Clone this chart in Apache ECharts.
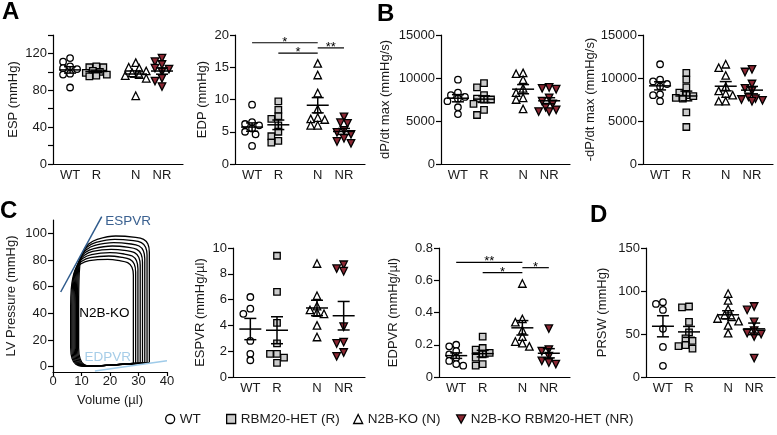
<!DOCTYPE html>
<html><head><meta charset="utf-8">
<script src="https://cdn.jsdelivr.net/npm/echarts@6/dist/echarts.min.js"></script>
<style>html,body{margin:0;padding:0;background:#fff}#c{width:777px;height:435px}</style>
</head><body><div id="c"></div>
<script>
// ---------- data ----------
const groupLabels = ['WT', 'R', 'N', 'NR'];
const legendNames = ['WT', 'RBM20-HET (R)', 'N2B-KO (N)', 'N2B-KO RBM20-HET (NR)'];

const espWT = [115, 111, 106, 104, 103, 98, 97, 83];
const espR  = [106, 105, 105, 101, 100, 99, 97, 96, 95];
const espN  = [110, 105, 104, 101, 99, 97, 96, 93, 74];
const espNR = [115, 111, 108, 104, 103, 100, 93, 90, 84];

const edpWT = [9.2, 6.5, 6.2, 6.0, 5.5, 5.0, 4.6, 2.8];
const edpR  = [9.7, 8.4, 7.4, 7.0, 6.0, 5.0, 4.3, 3.6, 3.3];
const edpN  = [15.6, 13.8, 11.0, 8.5, 7.2, 7.0, 6.9, 6.0, 6.0];
const edpNR = [7.3, 6.4, 6.3, 5.2, 4.9, 4.6, 4.0, 3.5, 3.2];

const dpWT = [9800, 8300, 8000, 7800, 7600, 7300, 6600, 5800];
const dpR  = [9400, 8900, 8000, 7600, 7500, 7500, 7000, 6300, 5700];
const dpN  = [10600, 10500, 9800, 8800, 8300, 7700, 7500, 6400];
const dpNR = [8900, 8800, 8700, 7700, 7300, 7000, 6600, 6300, 6100, 6100];

const ndpWT = [11600, 9800, 9600, 9300, 9000, 8100, 8000, 7300];
const ndpR  = [10600, 9800, 8900, 8300, 8000, 7900, 7700, 7600, 6000, 4300];
const ndpN  = [11600, 11200, 10300, 9000, 8500, 8200, 8000, 7300, 7300];
const ndpNR = [11000, 10700, 9300, 8800, 8500, 7800, 7600, 7500, 7400, 7300];

const espvrWT = [6.2, 5.3, 4.9, 2.8, 1.8, 1.3];
const espvrR  = [9.4, 6.6, 4.2, 2.6, 1.8, 1.8, 1.5, 1.1];
const espvrN  = [8.8, 6.3, 5.5, 5.2, 5.0, 4.9, 4.0, 3.1];
const espvrNR = [8.7, 8.4, 8.2, 3.9, 2.7, 2.6, 1.9, 1.6];

const edpvrWT = [0.20, 0.19, 0.16, 0.14, 0.12, 0.10, 0.08, 0.07];
const edpvrR  = [0.25, 0.18, 0.17, 0.15, 0.14, 0.12, 0.08, 0.07];
const edpvrN  = [0.58, 0.36, 0.34, 0.29, 0.25, 0.22, 0.21, 0.19];
const edpvrNR = [0.30, 0.17, 0.16, 0.13, 0.10, 0.09, 0.08];

const prswWT = [87, 85, 78, 56, 35, 13];
const prswR  = [82, 81, 64, 52, 45, 42, 37, 36, 33];
const prswN  = [97, 89, 79, 72, 70, 68, 65, 60, 51];
const prswNR = [82, 78, 64, 54, 51, 50, 47, 22];

// significance: [from group, to group, y value, label]
const edpSig   = [[0, 2, 18.8, '*'], [1, 2, 17.2, '*'], [2, 3, 18.0, '**']];
const edpvrSig = [[0, 2, 0.711, '**'], [1, 2, 0.647, '*'], [2, 3, 0.678, '*']];

// PV loops (volume µl, pressure mmHg), N2B-KO, largest to smallest
const pvLoop1 = [[20,1.2],[13.0,0.5],[10.8,1.8],[9.5,6],[9.0,14],[9.0,46],[9.2,70],[9.7,80],[10.7,87],[12.5,92],[15.5,95.5],[22.0,98],[29.0,97],[31.8,95.5],[33.3,92],[33.8,86],[33.8,3.3],[29.8,2.7],[20,1.2]];
const pvLoop2 = [[20,1.2],[12.6,0.5],[10.4,1.8],[9.1,6],[8.6,14],[8.6,46],[8.8,68.3],[9.3,78],[10.3,85],[12.1,89.9],[15.1,93.2],[21.6,95.5],[28.2,94.5],[31.0,93],[32.5,89.5],[33.0,83.5],[33.0,3.15],[29.0,2.55],[20,1.2]];
const pvLoop3 = [[20,1.2],[12.2,0.5],[10.0,1.8],[8.7,6],[8.2,14],[8.2,46],[8.4,66.6],[8.9,76],[9.9,83],[11.7,87.7],[14.7,90.9],[21.2,93],[27.4,92],[30.2,90.5],[31.7,87],[32.2,81],[32.2,3.0],[28.2,2.4],[20,1.2]];
const pvLoop4 = [[20,1.2],[11.8,0.5],[9.6,1.8],[8.3,6],[7.8,14],[7.8,46],[8.0,64.9],[8.5,74],[9.5,81],[11.3,85.6],[14.3,88.6],[20.8,90.5],[26.6,89.5],[29.4,88],[30.9,84.5],[31.4,78.5],[31.4,2.85],[27.4,2.25],[20,1.2]];
const pvLoop5 = [[20,1.2],[11.4,0.5],[9.2,1.8],[7.9,6],[7.4,14],[7.4,46],[7.6,63.1],[8.1,72],[9.1,79],[10.9,83.4],[13.9,86.4],[20.4,88],[25.8,87],[28.6,85.5],[30.1,82],[30.6,76],[30.6,2.7],[26.6,2.1],[20,1.2]];
const pvLoop6 = [[20,1.2],[11.0,0.5],[8.8,1.8],[7.5,6],[7.0,14],[7.0,46],[7.2,61.4],[7.7,70],[8.7,77],[10.5,81.3],[13.5,84.1],[20.0,85.5],[25.0,84.5],[27.8,83],[29.3,79.5],[29.8,73.5],[29.8,2.55],[25.8,1.95],[20,1.2]];
const pvLoop7 = [[20,1.2],[10.6,0.5],[8.4,1.8],[7.1,6],[6.6,14],[6.6,46],[6.8,59.7],[7.3,68],[8.3,75],[10.1,79.1],[13.1,81.8],[19.6,83],[24.2,82],[27.0,80.5],[28.5,77],[29.0,71],[29.0,2.4],[25.0,1.8],[20,1.2]];
const pvLoop8 = [[20,1.2],[10.2,0.5],[8.0,1.8],[6.7,6],[6.2,14],[6.2,46],[6.4,58],[6.9,66],[7.9,73],[9.7,77],[12.7,79.5],[19.2,80.5],[23.4,79.5],[26.2,78],[27.7,74.5],[28.2,68.5],[28.2,2.25],[24.2,1.65],[20,1.2]];
const espvrLine = [[2.7, 56], [17.1, 112.5]];
const edpvrLine = [[14.7, -3.2], [40, 4.5]];
// in-plot labels of the PV panel: [volume, pressure, text]
const pvLabels = [[18, 40, 'N2B-KO'], [26.4, 109, 'ESPVR'], [19.2, 7.3, 'EDPVR']];

// ---------- layout / style ----------
const groupPos = [1, 2, 3.5, 4.5];
const TXT = '#1a1a1a';
const FONT = 'Liberation Sans, Arial, Helvetica, sans-serif';
const symbols = ['circle', 'rect', 'triangle', 'path://M0,0L10,0L5,9Z'];
const symSizes = [6.5, 6.5, 7.5, 7.5];
const fills = ['#ffffff', '#cccccc', '#ffffff', '#8b2733'];
const pvLabelColors = ['#000000', '#3b6190', '#a6cde8'];

const panels = [
  {k:0, grid:{left:53, top:35, width:130, height:129}, min:0, max:140, step:20, every:40, name:'ESP (mmHg)', gap:33, sets:[espWT, espR, espN, espNR]},
  {k:1, grid:{left:235, top:35, width:130, height:129}, min:0, max:20, step:5, name:'EDP (mmHg)', gap:26, sets:[edpWT, edpR, edpN, edpNR], sig:edpSig},
  {k:2, grid:{left:441, top:35, width:129, height:129}, min:0, max:15000, step:5000, name:'dP/dt max (mmHg/s)', gap:49, sets:[dpWT, dpR, dpN, dpNR]},
  {k:3, grid:{left:643, top:35, width:130, height:129}, min:0, max:15000, step:5000, name:'-dP/dt max (mmHg/s)', gap:46, sets:[ndpWT, ndpR, ndpN, ndpNR]},
  {k:5, grid:{left:233, top:248, width:132, height:129}, min:0, max:10, step:2, name:'ESPVR (mmHg/µl)', gap:26, sets:[espvrWT, espvrR, espvrN, espvrNR]},
  {k:6, grid:{left:439, top:248, width:131, height:129}, min:0, max:0.8, step:0.2, name:'EDPVR (mmHg/µl)', gap:39, sets:[edpvrWT, edpvrR, edpvrN, edpvrNR], sig:edpvrSig},
  {k:7, grid:{left:646, top:248, width:129, height:129}, min:0, max:150, step:50, name:'PRSW (mmHg)', gap:37, sets:[prswWT, prswR, prswN, prswNR]}
];
const pvGrid = {left:53, top:220, width:114, height:152};

const axLine = {show:true, onZero:false, lineStyle:{color:'#000', width:1.2}};
const axTick = {show:true, length:5, lineStyle:{color:'#000', width:1.2}};

const grids = [], xAxes = [], yAxes = [];
panels.forEach(p => {
  grids[p.k] = Object.assign({outerBoundsMode:'none', containLabel:false}, p.grid);
  xAxes[p.k] = {type:'value', gridIndex:p.k, min:0.35, max:5.3, axisLine:axLine, axisTick:{show:false}, splitLine:{show:false},
    axisLabel:{customValues:groupPos, margin:5, fontSize:13, color:TXT, fontFamily:FONT,
      formatter: v => { const i = groupPos.indexOf(v); return i >= 0 ? groupLabels[i] : ''; }}};
  yAxes[p.k] = {type:'value', gridIndex:p.k, min:p.min, max:p.max, interval:p.step, axisLine:axLine, axisTick:axTick, splitLine:{show:false},
    axisLabel:{margin:6, fontSize:13, color:TXT, fontFamily:FONT,
      formatter: v => (p.every && Math.round(v) % p.every !== 0) ? '' : String(+v.toFixed(2))},
    name:p.name, nameLocation:'middle', nameRotate:90, nameGap:p.gap, nameTextStyle:{fontSize:13, color:TXT, fontFamily:FONT}};
});
grids[4] = Object.assign({outerBoundsMode:'none', containLabel:false}, pvGrid);
xAxes[4] = {type:'value', gridIndex:4, min:0, max:40, interval:10, axisLine:axLine, axisTick:{show:true, length:4, lineStyle:{color:'#000', width:1.2}}, splitLine:{show:false},
  axisLabel:{margin:3, fontSize:13, color:TXT, fontFamily:FONT},
  name:'Volume (µl)', nameLocation:'middle', nameGap:22, nameTextStyle:{fontSize:13, color:TXT, fontFamily:FONT}};
yAxes[4] = {type:'value', gridIndex:4, min:-4, max:110, axisLine:axLine, splitLine:{show:false},
  axisTick:Object.assign({customValues:[0,20,40,60,80,100]}, axTick),
  axisLabel:{customValues:[0,20,40,60,80,100], margin:6, fontSize:13, color:TXT, fontFamily:FONT},
  name:'LV Pressure (mmHg)', nameLocation:'middle', nameRotate:90, nameGap:35, nameTextStyle:{fontSize:13, color:TXT, fontFamily:FONT}};

const chart = echarts.init(document.getElementById('c'), null, {renderer:'canvas'});
chart.setOption({
  animation:false, backgroundColor:'#fff',
  textStyle:{fontFamily:FONT},
  grid:grids, xAxis:xAxes, yAxis:yAxes,
  graphic:[
    {type:'text', left:2, top:0, style:{text:'A', font:'bold 24px ' + FONT, fill:'#000'}},
    {type:'text', left:377, top:2, style:{text:'B', font:'bold 24px ' + FONT, fill:'#000'}},
    {type:'text', left:0, top:199, style:{text:'C', font:'bold 24px ' + FONT, fill:'#000'}},
    {type:'text', left:590, top:203, style:{text:'D', font:'bold 24px ' + FONT, fill:'#000'}}
  ],
  series:[]
});

// beeswarm layout through the chart's own scales
function swarm(vals, k, pos, d) {
  const p0 = chart.convertToPixel({gridIndex:k}, [pos, 0]);
  const p1 = chart.convertToPixel({gridIndex:k}, [pos + 1, 0]);
  const unit = p1[0] - p0[0];
  const items = vals.map(v => ({v, py: chart.convertToPixel({gridIndex:k}, [pos, v])[1]}));
  items.sort((a, b) => a.py - b.py);
  const cands = [0, -0.5, 0.5, -1, 1, -1.5, 1.5];
  const thr = d * 0.9;
  const placed = [];
  items.forEach(it => {
    let best = 0, bestD = -1;
    for (const c of cands) {
      const ox = c * d;
      const md = placed.reduce((m, q) => Math.min(m, Math.hypot(q.ox - ox, q.py - it.py)), Infinity);
      if (md >= thr) { best = ox; bestD = Infinity; break; }
      if (md > bestD) { bestD = md; best = ox; }
    }
    it.ox = best;
    placed.push(it);
  });
  return items.map(it => [pos + it.ox / unit, it.v]);
}
function meanSem(a) {
  const n = a.length, m = a.reduce((s, v) => s + v, 0) / n;
  const sd = Math.sqrt(a.reduce((s, v) => s + (v - m) ** 2, 0) / (n - 1));
  return [m, sd / Math.sqrt(n)];
}

const series = [];
panels.forEach(p => {
  p.sets.forEach((vals, g) => {
    series.push({type:'scatter', name:legendNames[g], xAxisIndex:p.k, yAxisIndex:p.k, silent:true, z:2,
      symbol:symbols[g], symbolSize:symSizes[g],
      itemStyle:{color:fills[g], borderColor:'#000', borderWidth:1.3, opacity:1},
      data: swarm(vals, p.k, groupPos[g], 7)});
  });
  series.push({type:'custom', xAxisIndex:p.k, yAxisIndex:p.k, silent:true, z:5,
    encode:{x:0, y:1},
    data: p.sets.map((vals, g) => { const ms = meanSem(vals); return [groupPos[g], ms[0], ms[1]]; }),
    renderItem:(params, api) => {
      const x = api.value(0), m = api.value(1), s = api.value(2);
      const c = api.coord([x, m]), t = api.coord([x, m + s]), b = api.coord([x, m - s]);
      const st = {stroke:'#000', lineWidth:1.5};
      return {type:'group', children:[
        {type:'line', shape:{x1:c[0] - 11, y1:c[1], x2:c[0] + 11, y2:c[1]}, style:st},
        {type:'line', shape:{x1:c[0] - 6, y1:t[1], x2:c[0] + 6, y2:t[1]}, style:st},
        {type:'line', shape:{x1:c[0] - 6, y1:b[1], x2:c[0] + 6, y2:b[1]}, style:st},
        {type:'line', shape:{x1:c[0], y1:t[1], x2:c[0], y2:b[1]}, style:st}
      ]};
    }});
  if (p.sig) {
    const sig = p.sig;
    series.push({type:'custom', xAxisIndex:p.k, yAxisIndex:p.k, silent:true, z:5,
      encode:{x:[0, 1], y:2},
      data: sig.map(s => [groupPos[s[0]], groupPos[s[1]], s[2]]),
      renderItem:(params, api) => {
        const a = api.coord([api.value(0), api.value(2)]), b = api.coord([api.value(1), api.value(2)]);
        return {type:'group', children:[
          {type:'line', shape:{x1:a[0], y1:a[1], x2:b[0], y2:b[1]}, style:{stroke:'#000', lineWidth:1.2}},
          {type:'text', x:(a[0] + b[0]) / 2, y:a[1] - 0.5,
            style:{text:sig[params.dataIndex][3], fontSize:13, fontFamily:FONT, fill:'#000', align:'center', verticalAlign:'middle', textAlign:'center', textVerticalAlign:'middle'}}
        ]};
      }});
  }
});

// PV loops panel
[pvLoop1, pvLoop2, pvLoop3, pvLoop4, pvLoop5, pvLoop6, pvLoop7, pvLoop8].forEach(loop => {
  series.push({type:'line', xAxisIndex:4, yAxisIndex:4, data:loop, showSymbol:false, smooth:0.3, silent:true, z:2,
    lineStyle:{color:'#000', width:1.3}});
});
series.push({type:'line', xAxisIndex:4, yAxisIndex:4, data:espvrLine, showSymbol:false, silent:true, clip:false, z:3, lineStyle:{color:'#2f5b8c', width:1.5}});
series.push({type:'line', xAxisIndex:4, yAxisIndex:4, data:edpvrLine, showSymbol:false, silent:true, clip:false, z:3, lineStyle:{color:'#9fcbe9', width:1.5}});
series.push({type:'custom', xAxisIndex:4, yAxisIndex:4, silent:true, clip:false, z:8,
  encode:{x:0, y:1},
  data: pvLabels.map(l => [l[0], l[1]]),
  renderItem:(params, api) => {
    const c = api.coord([api.value(0), api.value(1)]);
    return {type:'text', x:c[0], y:c[1], z2:10,
      style:{text:pvLabels[params.dataIndex][2], fontSize:13.5, fontFamily:FONT, fill:pvLabelColors[params.dataIndex],
        align:'center', verticalAlign:'middle', textAlign:'center', textVerticalAlign:'middle'}};
  }});

const legIcons = ['circle', 'rect', 'triangle', 'path://M0,0L10,0L5,9Z'];
const legLeft = [160, 221, 348, 451];
chart.setOption({
  legend: legendNames.map((n, i) => ({
    left:legLeft[i], top:407, itemWidth:9, itemHeight:9, selectedMode:false,
    textStyle:{fontSize:13.5, color:TXT, fontFamily:FONT},
    data:[{name:n, icon:legIcons[i], itemStyle:{color:fills[i], borderColor:'#000', borderWidth:1.3}}]
  })),
  series
});
</script></body></html>
